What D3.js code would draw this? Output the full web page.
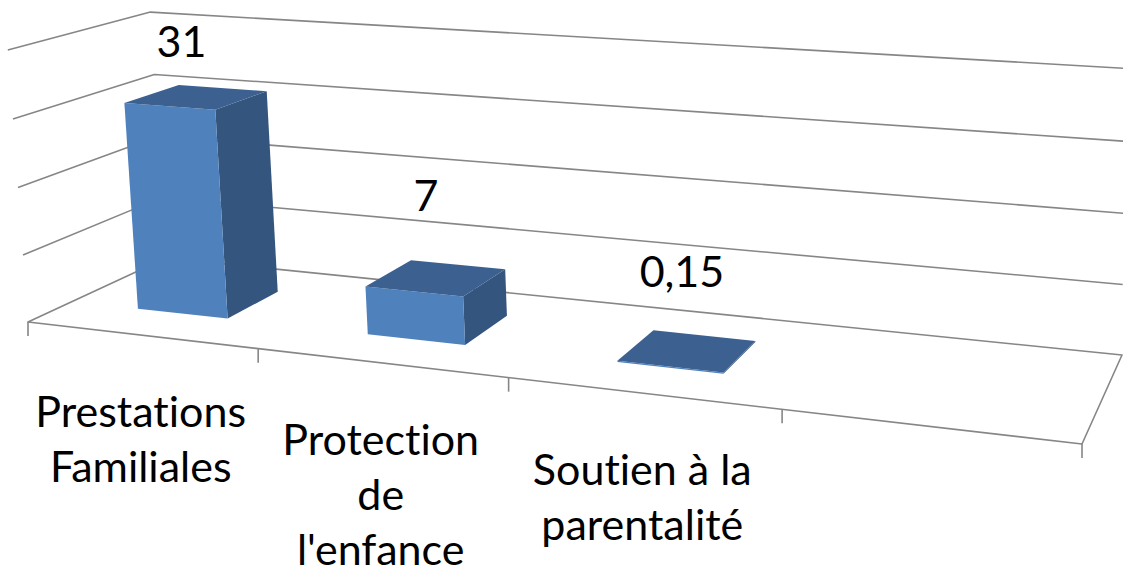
<!DOCTYPE html>
<html>
<head>
<meta charset="utf-8">
<script src="https://cdn.jsdelivr.net/npm/d3@7"></script>
<style>
  html, body { margin: 0; padding: 0; background: #ffffff; }
  svg { display: block; }
  text { font-variant-ligatures: none; font-feature-settings: "liga" 0, "clig" 0; }
</style>
</head>
<body>
<svg id="chart" width="1123" height="574"></svg>
<script>
// ---------- data ----------
const categories = ["Prestations Familiales", "Protection de l'enfance", "Soutien à la parentalité", ""];
const categoryLines = [["Prestations", "Familiales"], ["Protection", "de", "l'enfance"], ["Soutien à la", "parentalité"], []];
const values = [31, 7, 0.15, null];
const valueLabels = ["31", "7", "0,15", ""];
const yTicks = [0, 10, 20, 30, 40];

// ---------- layout: 3D frame calibration ----------
// floor corners (u: category axis 0..1, w: depth 0 front..1 back)
const floorCorners = [[0, 0, 28, 322], [1, 0, 1082, 444], [1, 1, 1122, 355], [0, 1, 166, 258]];
// wall points at height v (0..1 of value axis)
const wallPoints = [
  [0, 1, 0, 12, 50], [0, 0.75, 0, 15, 119], [0, 0.5, 0, 18, 188], [0, 0.25, 0, 23, 255],
  [0, 1, 1, 147, 8], [0, 0.75, 1, 152, 71],
  [1, 1, 1, 1125, 72], [1, 0.75, 1, 1124, 144], [1, 0.5, 1, 1123, 216], [1, 0.25, 1, 1123, 286]
];

function solve(M) { // augmented matrix, Gauss-Jordan
  const n = M.length;
  for (let c = 0; c < n; c++) {
    let p = c;
    for (let r = c + 1; r < n; r++) if (Math.abs(M[r][c]) > Math.abs(M[p][c])) p = r;
    [M[c], M[p]] = [M[p], M[c]];
    for (let r = 0; r < n; r++) {
      if (r === c) continue;
      const f = M[r][c] / M[c][c];
      for (let k = c; k <= n; k++) M[r][k] -= f * M[c][k];
    }
  }
  return M.map((row, i) => row[n] / row[i]);
}
const S = 1000;
// floor homography
const Hm = [];
floorCorners.forEach(([u, w, X, Y]) => {
  const xx = X / S, yy = Y / S;
  Hm.push([u, w, 1, 0, 0, 0, -xx * u, -xx * w, xx]);
  Hm.push([0, 0, 0, u, w, 1, -yy * u, -yy * w, yy]);
});
const h = solve(Hm);
const hx = [h[0], h[1], h[2]], hy = [h[3], h[4], h[5]], hd = [h[6], h[7], 1];
const dot = (a, q) => a[0] * q[0] + a[1] * q[1] + a[2] * q[2];
// vertical column fit (least squares, 3 unknowns)
const N = [[0, 0, 0, 0], [0, 0, 0, 0], [0, 0, 0, 0]];
wallPoints.forEach(([u, v, w, X, Y]) => {
  const q = [u, w, 1], xx = X / S, yy = Y / S;
  const rows = [[[v, 0, -xx * v], xx * dot(hd, q) - dot(hx, q)],
                [[0, v, -yy * v], yy * dot(hd, q) - dot(hy, q)]];
  rows.forEach(([a, b]) => {
    for (let i = 0; i < 3; i++) { for (let j = 0; j < 3; j++) N[i][j] += a[i] * a[j]; N[i][3] += a[i] * b; }
  });
});
const pv = solve(N);
function project(u, v, w) {
  const q = [u, w, 1];
  const d = dot(hd, q) + v * pv[2];
  return [S * (dot(hx, q) + v * pv[0]) / d, S * (dot(hy, q) + v * pv[1]) / d];
}

// ---------- scales ----------
const x = d3.scaleBand().domain(categories.map((c, i) => i)).range([0, 1]).paddingInner(0.6).paddingOuter(0.3);
const y = d3.scaleLinear().domain([0, 40]).range([0, 1]);
const depth = [0.3, 0.7];

const svg = d3.select("#chart");
svg.append("rect").attr("width", 1123).attr("height", 574).attr("fill", "#ffffff");

const line = d3.line();
const poly = pts => line(pts.map(p => project(...p))) + "Z";
const gridColor = "#868686";

const grid = svg.append("g").attr("fill", "none").attr("stroke", gridColor).attr("stroke-width", 1.6).attr("stroke-linejoin", "round");
yTicks.filter(t => t > 0).forEach(t => {
  const v = y(t);
  grid.append("path").attr("d", line([project(0, v, 0), project(0, v, 1), project(1, v, 1)]));
});
grid.append("path").attr("d", poly([[0, 0, 0], [1, 0, 0], [1, 0, 1], [0, 0, 1]]));
const slotEdges = d3.range(categories.length + 1).map(i => i / categories.length);
slotEdges.forEach(u => {
  const p = project(u, 0, 0);
  grid.append("line").attr("x1", p[0]).attr("y1", p[1]).attr("x2", p[0]).attr("y2", p[1] + 14);
});

// bars
const bars = svg.append("g");
values.forEach((val, i) => {
  if (val == null) return;
  const u0 = x(i), u1 = x(i) + x.bandwidth(), v = y(val), w0 = depth[0], w1 = depth[1];
  const g = bars.append("g");
  g.append("path").attr("d", poly([[u1, 0, w0], [u1, 0, w1], [u1, v, w1], [u1, v, w0]])).attr("fill", "#34557E");
  g.append("path").attr("d", poly([[u0, 0, w0], [u1, 0, w0], [u1, v, w0], [u0, v, w0]])).attr("fill", "#4F81BD");
  g.append("path").attr("d", poly([[u0, v, w0], [u1, v, w0], [u1, v, w1], [u0, v, w1]])).attr("fill", "#3C6190");
});

const fontFam = "Lato, 'Open Sans', sans-serif";
values.forEach((val, i) => {
  if (val == null) return;
  const uc = x(i) + x.bandwidth() / 2;
  const p = project(uc, y(val), depth[0]);
  const baseline = Math.max(p[1] - 80, 57);
  svg.append("text").attr("x", p[0] + 12).attr("y", baseline)
    .attr("text-anchor", "middle").attr("font-family", fontFam).attr("font-size", 43)
    .attr("fill", "#000").text(valueLabels[i]);
});

categoryLines.forEach((lines, i) => {
  if (!lines.length) return;
  const uc = x(i) + x.bandwidth() / 2;
  const p = project(uc, 0, 0);
  const t = svg.append("text").attr("text-anchor", "middle").attr("font-family", fontFam)
    .attr("font-size", 43).attr("fill", "#000");
  lines.forEach((s, k) => {
    t.append("tspan").attr("x", p[0]).attr("y", p[1] + 92 + k * 55).text(s);
  });
});
</script>
</body>
</html>
